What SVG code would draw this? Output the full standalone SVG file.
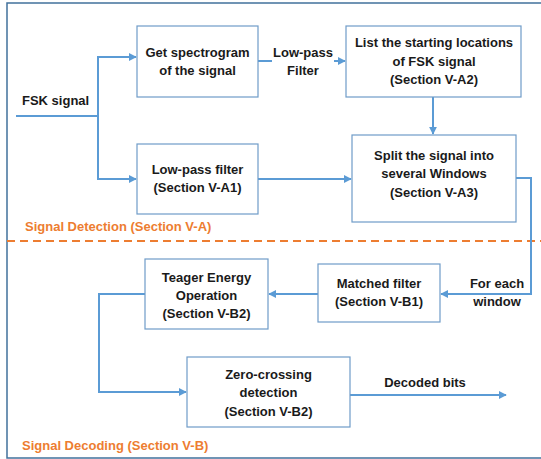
<svg xmlns="http://www.w3.org/2000/svg" width="541" height="459" viewBox="0 0 541 459">
<style>
.box{fill:#fff;stroke:#6f9cc8;stroke-width:1.2}
.t{font-family:"Liberation Sans",Arial,sans-serif;font-weight:bold;font-size:13px;fill:#1a1a1a;text-anchor:middle}
.tl{font-family:"Liberation Sans",Arial,sans-serif;font-weight:bold;font-size:13px;fill:#1a1a1a}
.o{font-family:"Liberation Sans",Arial,sans-serif;font-weight:bold;font-size:13px;fill:#ED7D31}
.c{fill:none;stroke:#5B9BD5;stroke-width:2}
</style>
<defs>
<marker id="ah" viewBox="0 0 10 10" refX="9" refY="5" markerWidth="4" markerHeight="4" orient="auto" markerUnits="strokeWidth">
<path d="M0,0 L10,5 L0,10 z" fill="#5B9BD5"/>
</marker>
</defs>
<rect x="0" y="0" width="541" height="459" fill="#fff"/>
<rect x="7" y="3" width="540" height="455" fill="none" stroke="#41719C" stroke-width="1.5"/>
<line x1="7" y1="241" x2="541" y2="241" stroke="#ED7D31" stroke-width="2" stroke-dasharray="8,5"/>
<text class="o" x="25" y="231">Signal Detection (Section V-A)</text>
<text class="o" x="22" y="450">Signal Decoding (Section V-B)</text>

<g id="connectors">
<path class="c" d="M16,116 H98"/>
<path class="c" d="M98,116 V57 H136" marker-end="url(#ah)"/>
<path class="c" d="M98,116 V179 H136" marker-end="url(#ah)"/>
<path class="c" d="M258,61 H345" marker-end="url(#ah)"/>
<path class="c" d="M258,179 H351" marker-end="url(#ah)"/>
<path class="c" d="M433,97 V134" marker-end="url(#ah)"/>
<path class="c" d="M516,178 H531 V294 H441" marker-end="url(#ah)"/>
<path class="c" d="M318,294 H269" marker-end="url(#ah)"/>
<path class="c" d="M145,294 H99 V392 H186" marker-end="url(#ah)"/>
<path class="c" d="M350,395 H506" marker-end="url(#ah)"/>
</g>

<g id="fsk-label"><text class="tl" x="22" y="104.5">FSK signal</text></g>
<g id="lowpass-label">
<rect x="272" y="43" width="62" height="36" fill="#fff"/>
<text class="t" x="303" y="56.5">Low-pass</text>
<text class="t" x="303" y="74.5">Filter</text>
</g>
<g id="foreach-label">
<text class="t" x="497" y="287.5">For each</text>
<text class="t" x="497" y="306">window</text>
</g>
<g id="decoded-label"><text class="t" x="425" y="387">Decoded bits</text></g>

<g id="spectrogram">
<rect class="box" x="137" y="26" width="121" height="71"/>
<text class="t" x="197.5" y="56.5">Get spectrogram</text>
<text class="t" x="197.5" y="74.5">of the signal</text>
</g>
<g id="lowpass">
<rect class="box" x="137" y="144" width="121" height="70"/>
<text class="t" x="197.5" y="174">Low-pass filter</text>
<text class="t" x="197.5" y="192">(Section V-A1)</text>
</g>
<g id="list">
<rect class="box" x="346" y="26" width="175" height="71"/>
<text class="t" x="434" y="47">List the starting locations</text>
<text class="t" x="434" y="66">of FSK signal</text>
<text class="t" x="434" y="84">(Section V-A2)</text>
</g>
<g id="split">
<rect class="box" x="352" y="135" width="164" height="87"/>
<text class="t" x="434" y="159.5">Split the signal into</text>
<text class="t" x="434" y="178">several Windows</text>
<text class="t" x="434" y="197">(Section V-A3)</text>
</g>
<g id="matched">
<rect class="box" x="318" y="264" width="122" height="58"/>
<text class="t" x="379" y="288">Matched filter</text>
<text class="t" x="379" y="306">(Section V-B1)</text>
</g>
<g id="teager">
<rect class="box" x="145" y="259" width="123" height="70"/>
<text class="t" x="206.5" y="281.5">Teager Energy</text>
<text class="t" x="206.5" y="300">Operation</text>
<text class="t" x="206.5" y="318">(Section V-B2)</text>
</g>
<g id="zero">
<rect class="box" x="187" y="357" width="163" height="70"/>
<text class="t" x="268.5" y="379">Zero-crossing</text>
<text class="t" x="268.5" y="397">detection</text>
<text class="t" x="268.5" y="416">(Section V-B2)</text>
</g>
</svg>
